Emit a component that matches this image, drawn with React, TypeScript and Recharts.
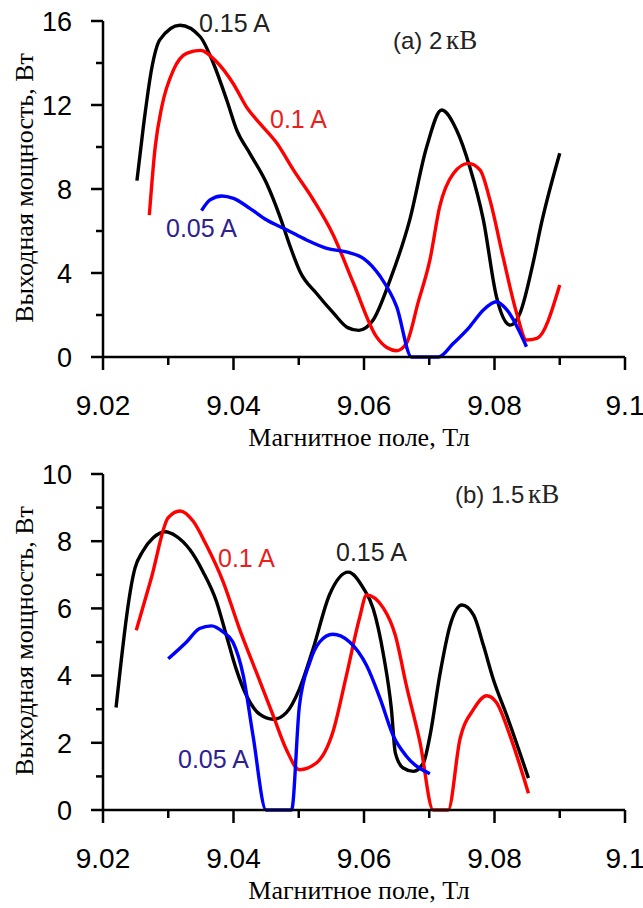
import React from 'react';
import { LineChart, Line, XAxis, YAxis, Customized } from 'recharts';

const SANS = '"Liberation Sans", Arial, sans-serif';
const SERIF = '"Liberation Serif", "Times New Roman", serif';

// shared field axis, T
const fieldTicks = [9.02, 9.03, 9.04, 9.05, 9.06, 9.07, 9.08, 9.09, 9.1];
const fieldLabels = ['9.02', '9.04', '9.06', '9.08', '9.1'];

// (a) 2 kV
const powerTicksA = [0, 2, 4, 6, 8, 10, 12, 14, 16];
const fieldA015 = [9.0252, 9.0262, 9.0275, 9.0287, 9.0318, 9.0349, 9.0369, 9.039, 9.0405, 9.0425, 9.0451, 9.0471, 9.0487, 9.0502, 9.0528, 9.0553, 9.0575, 9.0592, 9.0614, 9.064, 9.067, 9.0696, 9.0719, 9.0742, 9.0762, 9.0783, 9.0803, 9.0824, 9.0839, 9.0859, 9.0872, 9.09];
const powerA015 = [8.4, 11.0, 13.8, 15.1, 15.8, 15.25, 14.0, 12.2, 10.8, 9.7, 8.25, 6.7, 5.25, 4.06, 3.0, 2.1, 1.4, 1.27, 1.76, 3.67, 6.52, 10.0, 11.76, 10.8, 9.06, 6.52, 2.87, 1.52, 2.08, 4.46, 6.37, 9.7];
const fieldA01 = [9.0271, 9.028, 9.029, 9.0308, 9.0328, 9.0349, 9.0374, 9.04, 9.042, 9.0441, 9.0466, 9.0492, 9.0522, 9.0553, 9.0584, 9.0619, 9.0635, 9.065, 9.0665, 9.0683, 9.0701, 9.0716, 9.0737, 9.076, 9.0778, 9.0793, 9.0813, 9.0834, 9.0849, 9.0865, 9.09];
const powerA01 = [6.76, 10.0, 11.9, 13.67, 14.46, 14.6, 14.06, 13.0, 11.9, 11.1, 10.2, 8.9, 7.5, 5.8, 3.5, 0.97, 0.45, 0.3, 0.65, 2.6, 4.62, 7.16, 8.74, 9.22, 8.9, 7.48, 4.78, 2.08, 0.81, 0.89, 3.43];
const fieldA005 = [9.0351, 9.0364, 9.0382, 9.04, 9.0425, 9.0451, 9.0482, 9.0512, 9.0543, 9.0576, 9.0599, 9.0625, 9.065, 9.0673, 9.0714, 9.0737, 9.0762, 9.0783, 9.0803, 9.0819, 9.0849];
const powerA005 = [6.97, 7.48, 7.67, 7.55, 7.08, 6.52, 6.05, 5.57, 5.17, 4.98, 4.7, 3.83, 2.4, 0, 0, 0.65, 1.44, 2.24, 2.63, 2.24, 0.49];

// (b) 1.5 kV
const powerTicksB = [0, 1, 2, 3, 4, 5, 6, 7, 8, 9, 10];
const fieldB015 = [9.022, 9.0249, 9.0261, 9.0277, 9.0295, 9.0312, 9.0333, 9.0353, 9.0374, 9.0389, 9.0404, 9.042, 9.044, 9.0461, 9.0481, 9.0501, 9.0522, 9.0547, 9.0576, 9.0599, 9.0614, 9.063, 9.0642, 9.0648, 9.066, 9.0676, 9.0691, 9.0701, 9.0716, 9.0732, 9.075, 9.0768, 9.0783, 9.0798, 9.0819, 9.0852];
const powerB015 = [3.05, 7.2, 7.7, 8.1, 8.28, 8.15, 7.75, 7.1, 6.2, 5.2, 4.2, 3.4, 2.85, 2.7, 2.9, 3.6, 4.8, 6.4, 7.08, 6.6, 6.0, 4.6, 3.0, 1.7, 1.25, 1.15, 1.4, 2.2, 4.0, 5.5, 6.1, 5.8, 4.9, 3.9, 2.8, 0.95];
const fieldB01 = [9.0251, 9.0274, 9.03, 9.0318, 9.0338, 9.0358, 9.0384, 9.0409, 9.0435, 9.0461, 9.0481, 9.0501, 9.0527, 9.0552, 9.0573, 9.0593, 9.0604, 9.063, 9.0648, 9.0665, 9.0686, 9.0706, 9.0729, 9.0747, 9.0768, 9.0788, 9.0803, 9.0824, 9.0852];
const powerB01 = [5.35, 6.9, 8.7, 8.9, 8.6, 7.9, 6.8, 5.4, 4.1, 2.8, 1.8, 1.2, 1.4, 2.3, 4.0, 5.7, 6.4, 6.0, 5.2, 3.7, 2.0, 0, 0, 2.1, 3.0, 3.4, 3.2, 2.2, 0.5];
const fieldB005 = [9.03, 9.0328, 9.0348, 9.0366, 9.0384, 9.0399, 9.0415, 9.043, 9.045, 9.0489, 9.0501, 9.0517, 9.0532, 9.0552, 9.0578, 9.0604, 9.0625, 9.0645, 9.0665, 9.0701];
const powerB005 = [4.5, 5.0, 5.4, 5.48, 5.3, 5.0, 4.0, 2.2, 0, 0, 3.1, 4.4, 5.0, 5.23, 5.0, 4.3, 3.3, 2.2, 1.6, 1.08];

const toPoints = (xs: number[], ys: number[]) => xs.map((x, i) => ({ x, y: ys[i] }));

const XTick = (props: any) => {
  const { x, y, payload } = props;
  const label = fieldLabels.find((l) => Math.abs(parseFloat(l) - payload.value) < 1e-6);
  return (
    <g>
      <line x1={x} x2={x} y1={y} y2={y + (label ? 13 : 8)} stroke="#000" strokeWidth={2.5} />
      {label && (
        <text x={x} y={y + 58} textAnchor="middle" fontFamily={SANS} fontSize={28} fill="#000">
          {label}
        </text>
      )}
    </g>
  );
};

const YTick = (props: any) => {
  const { x, y, payload, step } = props;
  const major = payload.value % step === 0;
  return (
    <g>
      <line x1={x - (major ? 12 : 7)} x2={x} y1={y} y2={y} stroke="#000" strokeWidth={2.5} />
      {major && (
        <text x={x - 31} y={y} dy="0.36em" textAnchor="end" fontFamily={SANS} fontSize={27} fill="#000">
          {payload.value}
        </text>
      )}
    </g>
  );
};

type Tag = { text: string; x: number; y: number; color: string };

const Notes = ({ tag, unitTag, tags }: { tag: [string, number, number]; unitTag: string; tags: Tag[] }) => (
  <g>
    <text x={33} y={188} transform="rotate(-90 33 188)" textAnchor="middle" fontFamily={SERIF} fontSize={26} fill="#000">
      Выходная мощность, Вт
    </text>
    <text x={tag[1]} y={tag[2]} fontFamily={SANS} fontSize={24} fill="#222">
      {tag[0]}
      <tspan fontFamily={SERIF} fontSize={27} dx={-3}>{unitTag}</tspan>
    </text>
    {tags.map((t) => (
      <text key={t.text} x={t.x} y={t.y} fontFamily={SANS} fontSize={25} fill={t.color}>
        {t.text}
      </text>
    ))}
  </g>
);

const Panel = ({
  top,
  yMax,
  yTicks,
  step,
  black,
  red,
  blue,
  tag,
  tags,
}: {
  top: number;
  yMax: number;
  yTicks: number[];
  step: number;
  black: { x: number; y: number }[];
  red: { x: number; y: number }[];
  blue: { x: number; y: number }[];
  tag: [string, number, number];
  tags: Tag[];
}) => (
  <div style={{ position: 'absolute', left: 0, top }}>
    <LineChart width={643} height={455} margin={{ top: 21, right: 18, left: 0, bottom: 0 }}>
      <XAxis
        type="number"
        dataKey="x"
        domain={[9.02, 9.1]}
        ticks={fieldTicks}
        interval={0}
        height={98}
        tickSize={0}
        tickMargin={0}
        tickLine={false}
        axisLine={{ stroke: '#000', strokeWidth: 2.5 }}
        tick={<XTick />}
        label={{
          value: 'Магнитное поле, Тл',
          position: 'insideBottom',
          offset: 9,
          dx: -5,
          style: { fontFamily: SERIF, fontSize: 26, fill: '#000' },
        }}
      />
      <YAxis
        type="number"
        dataKey="y"
        domain={[0, yMax]}
        ticks={yTicks}
        interval={0}
        width={103}
        tickSize={0}
        tickMargin={0}
        tickLine={false}
        axisLine={{ stroke: '#000', strokeWidth: 2.5 }}
        tick={<YTick step={step} />}
      />
      <Line data={black} dataKey="y" type="monotone" stroke="#000000" strokeWidth={3.4} dot={false} isAnimationActive={false} />
      <Line data={red} dataKey="y" type="monotone" stroke="#ff0000" strokeWidth={3.4} dot={false} isAnimationActive={false} />
      <Line data={blue} dataKey="y" type="monotone" stroke="#0000ff" strokeWidth={3.4} dot={false} isAnimationActive={false} />
      <Customized component={<Notes tag={tag} unitTag="кВ" tags={tags} />} />
    </LineChart>
  </div>
);

export default function App() {
  return (
    <div style={{ position: 'absolute', left: 0, top: 0, width: 643, height: 908, background: '#fff' }}>
      <Panel
        top={0}
        yMax={16}
        yTicks={powerTicksA}
        step={4}
        black={toPoints(fieldA015, powerA015)}
        red={toPoints(fieldA01, powerA01)}
        blue={toPoints(fieldA005, powerA005)}
        tag={['(a) 2 ', 393, 49]}
        tags={[
          { text: '0.15 A', x: 199, y: 32, color: '#222222' },
          { text: '0.1 A', x: 270, y: 128, color: '#e8211e' },
          { text: '0.05 A', x: 166, y: 237, color: '#2d2090' },
        ]}
      />
      <Panel
        top={453}
        yMax={10}
        yTicks={powerTicksB}
        step={2}
        black={toPoints(fieldB015, powerB015)}
        red={toPoints(fieldB01, powerB01)}
        blue={toPoints(fieldB005, powerB005)}
        tag={['(b) 1.5 ', 455, 50]}
        tags={[
          { text: '0.15 A', x: 336, y: 108, color: '#222222' },
          { text: '0.1 A', x: 218, y: 114, color: '#e8211e' },
          { text: '0.05 A', x: 178, y: 315, color: '#2d2090' },
        ]}
      />
    </div>
  );
}
